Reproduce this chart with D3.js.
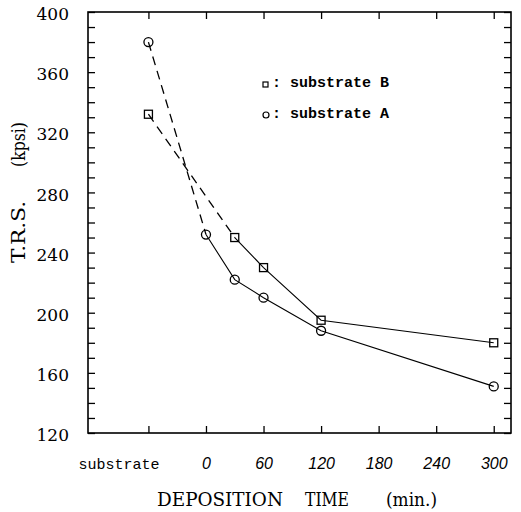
<!DOCTYPE html>
<html>
<head>
<meta charset="utf-8">
<script src="https://cdnjs.cloudflare.com/ajax/libs/d3/7.8.5/d3.min.js"></script>
<style>
body { margin: 0; background: #fff; }
</style>
</head>
<body>
<div id="chart"></div>
<script>
var w = 521;
var h = 512;

// x positions: "substrate" is drawn one step left of 0
var tickValues = [-60, 0, 60, 120, 180, 240, 300];
var tickLabels = ["substrate", "0", "60", "120", "180", "240", "300"];

var timesA = [-60, 0, 30, 60, 120, 300];
var valuesA = [380, 252, 222, 210, 188, 151];

var timesB = [-60, 30, 60, 120, 300];
var valuesB = [332, 250, 230, 195, 180];

var yTicks = d3.range(120, 401, 10);
var yLabels = [120, 160, 200, 240, 280, 320, 360, 400];

var svg = d3.select("#chart")
    .append("svg")
    .attr("width", w)
    .attr("height", h);

var x = d3.scaleLinear().domain([-123, 318]).range([88, 511]);
var y = d3.scaleLinear().domain([120, 400]).range([433, 12]);

var serif = "'DejaVu Serif', serif";
var mono = "'Liberation Mono', monospace";

// bottom axis
var xAxis = svg.append("g")
    .attr("transform", "translate(0," + y.range()[0] + ")")
    .call(d3.axisBottom(x)
        .tickValues(tickValues)
        .tickFormat(function(d, i) { return tickLabels[i]; })
        .tickSizeInner(-7)
        .tickSizeOuter(0)
        .tickPadding(25));
xAxis.select(".domain").remove();
xAxis.selectAll("text")
    .attr("font-family", "'Liberation Sans', sans-serif")
    .attr("font-style", "italic")
    .attr("font-size", 16)
    .attr("fill", "#000");
xAxis.selectAll(".tick")
    .filter(function(d) { return d === -60; })
    .select("text")
    .attr("x", -30)
    .attr("font-family", mono)
    .attr("font-style", "normal")
    .attr("font-size", 15);

// top axis, ticks only
var xTop = svg.append("g")
    .attr("transform", "translate(0," + y.range()[1] + ")")
    .call(d3.axisTop(x)
        .tickValues(tickValues)
        .tickFormat("")
        .tickSizeInner(-7)
        .tickSizeOuter(0));
xTop.select(".domain").remove();

// left axis
var yAxis = svg.append("g")
    .attr("transform", "translate(" + x.range()[0] + ",0)")
    .call(d3.axisLeft(y)
        .tickValues(yTicks)
        .tickFormat(function(d) { return yLabels.indexOf(d) >= 0 ? d : ""; })
        .tickSizeInner(-7)
        .tickSizeOuter(0)
        .tickPadding(19));
yAxis.select(".domain").remove();
yAxis.selectAll("text")
    .attr("font-family", serif)
    .attr("font-size", 17)
    .attr("dy", "0.45em")
    .attr("fill", "#000");

// right axis, ticks only
var yRight = svg.append("g")
    .attr("transform", "translate(" + x.range()[1] + ",0)")
    .call(d3.axisRight(y)
        .tickValues(yTicks)
        .tickFormat("")
        .tickSizeInner(-7)
        .tickSizeOuter(0));
yRight.select(".domain").remove();

svg.selectAll(".tick line")
    .attr("stroke", "#000")
    .attr("stroke-width", 1.3);

// frame
svg.append("rect")
    .attr("x", x.range()[0])
    .attr("y", y.range()[1])
    .attr("width", x.range()[1] - x.range()[0])
    .attr("height", y.range()[0] - y.range()[1])
    .attr("fill", "none")
    .attr("stroke", "#000")
    .attr("stroke-width", 1.6);

// axis titles (word, start, width)
var titleParts = [["DEPOSITION", 157, 126], ["TIME", 305, 44], ["(min.)", 386, 51]];
svg.selectAll(".xtitle")
    .data(titleParts)
    .enter()
    .append("text")
    .attr("class", "xtitle")
    .attr("x", function(d) { return d[1]; })
    .attr("y", 506)
    .attr("font-family", serif)
    .attr("font-size", 18)
    .attr("textLength", function(d) { return d[2]; })
    .attr("lengthAdjust", "spacingAndGlyphs")
    .attr("fill", "#000")
    .text(function(d) { return d[0]; });

var yTitleParts = [["T.R.S.", 263, 62], ["(kpsi)", 167, 45]];
svg.selectAll(".ytitle")
    .data(yTitleParts)
    .enter()
    .append("text")
    .attr("class", "ytitle")
    .attr("transform", function(d) { return "translate(25," + d[1] + ") rotate(-90)"; })
    .attr("font-family", serif)
    .attr("font-size", 18)
    .attr("textLength", function(d) { return d[2]; })
    .attr("lengthAdjust", "spacingAndGlyphs")
    .attr("fill", "#000")
    .text(function(d) { return d[0]; });

// data
var ptsA = timesA.map(function(t, i) { return [t, valuesA[i]]; });
var ptsB = timesB.map(function(t, i) { return [t, valuesB[i]]; });

var line = d3.line()
    .x(function(d) { return x(d[0]); })
    .y(function(d) { return y(d[1]); });

function drawSeries(pts) {
    svg.append("path")
        .attr("d", line(pts.slice(0, 2)))
        .attr("fill", "none")
        .attr("stroke", "#000")
        .attr("stroke-width", 1.3)
        .attr("stroke-dasharray", "9,6");
    svg.append("path")
        .attr("d", line(pts.slice(1)))
        .attr("fill", "none")
        .attr("stroke", "#000")
        .attr("stroke-width", 1.1);
}
drawSeries(ptsA);
drawSeries(ptsB);

svg.selectAll(".ptA")
    .data(ptsA)
    .enter()
    .append("circle")
    .attr("class", "ptA")
    .attr("cx", function(d) { return x(d[0]); })
    .attr("cy", function(d) { return y(d[1]); })
    .attr("r", 4.5)
    .attr("fill", "none")
    .attr("stroke", "#000")
    .attr("stroke-width", 1.3);

svg.selectAll(".ptB")
    .data(ptsB)
    .enter()
    .append("rect")
    .attr("class", "ptB")
    .attr("x", function(d) { return x(d[0]) - 4; })
    .attr("y", function(d) { return y(d[1]) - 4; })
    .attr("width", 8)
    .attr("height", 8)
    .attr("fill", "none")
    .attr("stroke", "#000")
    .attr("stroke-width", 1.3);

// legend
svg.append("rect")
    .attr("x", 263).attr("y", 82)
    .attr("width", 5).attr("height", 5)
    .attr("fill", "none").attr("stroke", "#000").attr("stroke-width", 1.2);
svg.append("circle")
    .attr("cx", 266).attr("cy", 115).attr("r", 3)
    .attr("fill", "none").attr("stroke", "#000").attr("stroke-width", 1.2);

var legendItems = [[": substrate B", 87], [": substrate A", 118]];
svg.selectAll(".legend")
    .data(legendItems)
    .enter()
    .append("text")
    .attr("class", "legend")
    .attr("x", 272)
    .attr("y", function(d) { return d[1]; })
    .attr("font-family", mono)
    .attr("font-size", 15)
    .attr("font-weight", "bold")
    .attr("fill", "#000")
    .style("white-space", "pre")
    .text(function(d) { return d[0]; });
</script>
</body>
</html>
